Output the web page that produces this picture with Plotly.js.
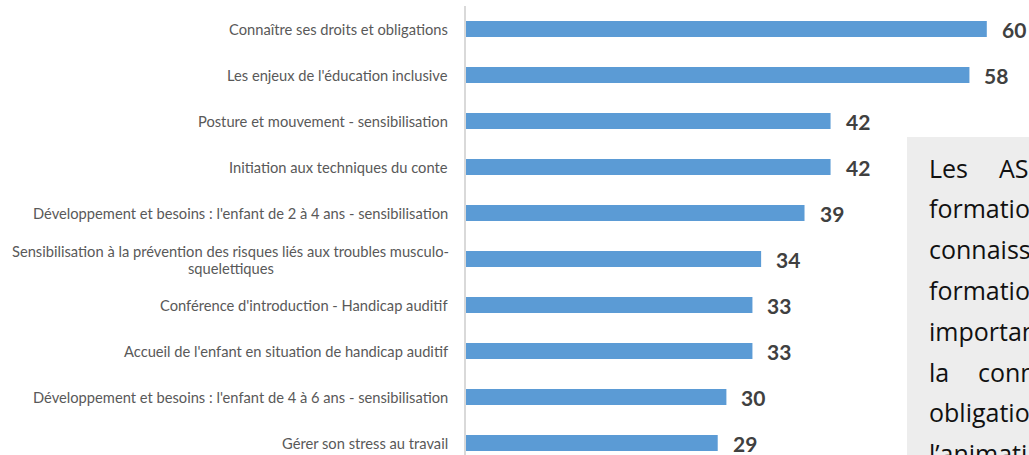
<!DOCTYPE html>
<html>
<head>
<meta charset="utf-8">
<script src="https://cdn.plot.ly/plotly-3.0.1.min.js"></script>
<style>html,body{margin:0;padding:0;background:#fff;overflow:hidden}</style>
</head>
<body>
<div id="chart" style="width:1029px;height:455px"></div>
<script>
// ---- data ----
const categories = [
  "Connaître ses droits et obligations",
  "Les enjeux de l'éducation inclusive",
  "Posture et mouvement - sensibilisation",
  "Initiation aux techniques du conte",
  "Développement et besoins : l'enfant de 2 à 4 ans - sensibilisation",
  "Sensibilisation à la prévention des risques liés aux troubles musculo-<br>squelettiques",
  "Conférence d'introduction - Handicap auditif",
  "Accueil de l'enfant en situation de handicap auditif",
  "Développement et besoins : l'enfant de 4 à 6 ans - sensibilisation",
  "Gérer son stress au travail"
];
const values = [60, 58, 42, 42, 39, 34, 33, 33, 30, 29];
const valueLabels = values.map(v => String(v));

// text box content (partially visible, cut by the page edge)
const boxLines = [
  ["Les", "AS"],
  ["formatio"],
  ["connaiss"],
  ["formatio"],
  ["importan"],
  ["la", "conn"],
  ["obligatio"],
  ["l\u2019animati"]
];

// ---- layout geometry ----
const W = 1029, H = 455;
const M = {l: 466, r: 0, t: 6, b: 0};
const PW = W - M.l - M.r, PH = H - M.t - M.b;
const pxX = px => (px - M.l) / PW;
const pxY = py => (H - M.b - py) / PH;

const labelFont = {family: "Lato, 'Open Sans', sans-serif", size: 14.7, color: "#595959"};
const valueFont = {family: "Lato, 'Open Sans', sans-serif", size: 21, color: "#404040", weight: 700};
const boxFont = {family: "'Open Sans', Lato, sans-serif", size: 25, color: "#111111"};

function measure(text, f) {
  const c = document.createElement("canvas").getContext("2d");
  c.font = (f.weight ? f.weight + " " : "") + f.size + "px " + f.family;
  return c.measureText(text).width;
}

const annotations = [];

// category labels
categories.forEach((cat, i) => {
  const parts = cat.split("<br>");
  if (parts.length === 1) {
    annotations.push({
      xref: "paper", yref: "y", x: 0, y: cat, xshift: -17,
      xanchor: "right", yanchor: "middle", text: cat, showarrow: false,
      font: labelFont, borderpad: 0
    });
  } else {
    const w1 = measure(parts[0], labelFont);
    parts.forEach((p, j) => {
      annotations.push({
        xref: "paper", yref: "y", x: 0, y: cat,
        xshift: -17 - w1 / 2, yshift: j === 0 ? 8.5 : -8.5,
        xanchor: "center", yanchor: "middle", text: p, showarrow: false,
        font: labelFont, borderpad: 0
      });
    });
  }
});

// value labels
values.forEach((v, i) => {
  annotations.push({
    xref: "x", yref: "y", x: v, y: categories[i], xshift: 13,
    xanchor: "left", yanchor: "middle", text: valueLabels[i], showarrow: false,
    font: valueFont
  });
});

// text box lines
const wordX = {0: [928, 998], 5: [928, 977]};
boxLines.forEach((words, i) => {
  const base = 177 + 40.8 * i;
  words.forEach((w, j) => {
    const x = wordX[i] ? wordX[i][j] : 928;
    annotations.push({
      xref: "paper", yref: "paper", x: pxX(x), y: pxY(base - 9.5),
      xanchor: "left", yanchor: "middle", text: w, showarrow: false,
      font: boxFont, borderpad: 0
    });
  });
});

const trace = {
  type: "bar",
  orientation: "h",
  x: values,
  y: categories,
  width: 0.35,
  marker: {color: "#5b9bd5", line: {width: 0}},
  hoverinfo: "none"
};

const layout = {
  width: W, height: H,
  margin: M,
  paper_bgcolor: "#ffffff",
  plot_bgcolor: "#ffffff",
  showlegend: false,
  xaxis: {range: [0, PW / 8.68], visible: false, fixedrange: true},
  yaxis: {
    type: "category", range: [9.26, -0.5],
    showline: true, linecolor: "#d9d9d9", linewidth: 2,
    showticklabels: false, ticks: "", showgrid: false, zeroline: false, fixedrange: true
  },
  shapes: [{
    type: "rect", xref: "paper", yref: "paper",
    x0: pxX(907), x1: pxX(1040), y0: pxY(470), y1: pxY(137),
    fillcolor: "#ededed", line: {width: 0}, layer: "below"
  }],
  annotations: annotations
};

Plotly.newPlot("chart", [trace], layout, {staticPlot: true, displayModeBar: false});
</script>
</body>
</html>
